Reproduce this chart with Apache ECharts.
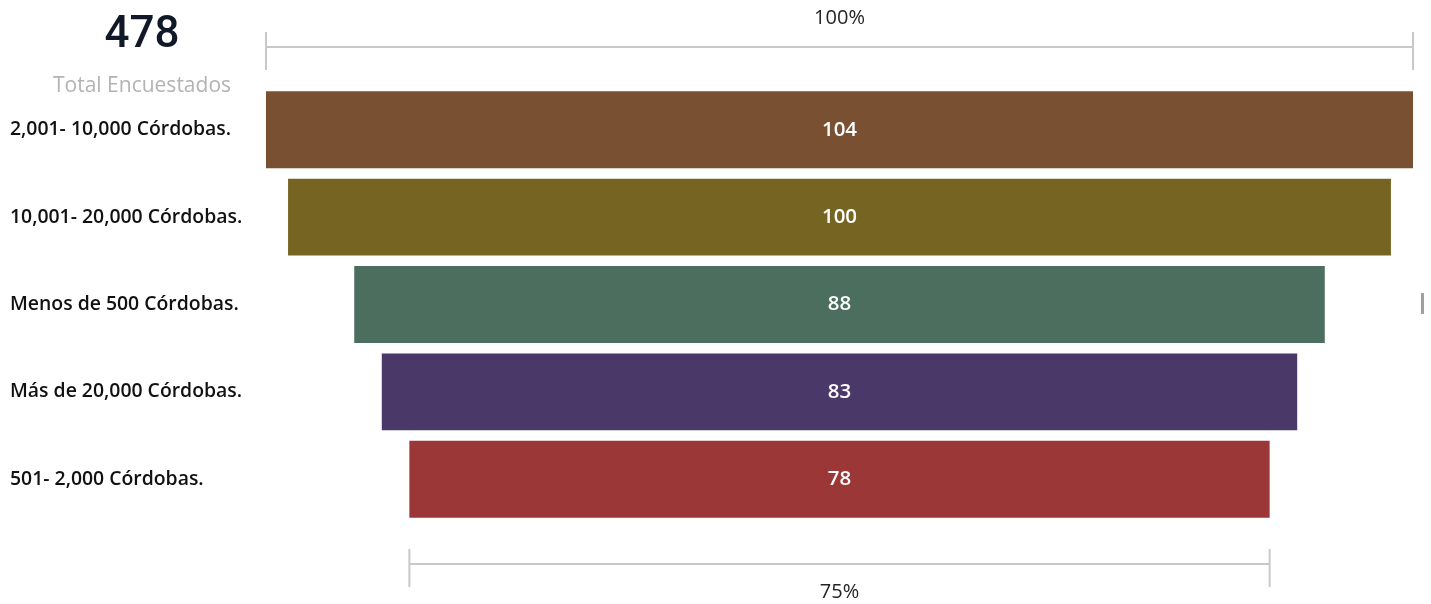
<!DOCTYPE html>
<html><head><meta charset="utf-8">
<script src="https://cdn.jsdelivr.net/npm/echarts@6/dist/echarts.min.js"></script>
<style>html,body{margin:0;padding:0;background:#fff}#c{width:1431px;height:604px}</style>
</head><body><div id="c"></div>
<script>
const categories = ['2,001- 10,000 Córdobas.','10,001- 20,000 Córdobas.','Menos de 500 Córdobas.','Más de 20,000 Córdobas.','501- 2,000 Córdobas.'];
const values = [104, 100, 88, 83, 78];
const colors = ['#7a5033','#766422','#4b6e5e','#4a3869','#9b3736'];
const totalValue = 478;
const totalLabel = 'Total Encuestados';
const topPct = '100%';
const bottomPct = '75%';

(function(){
const maxV = Math.max(...values);
const offsets = values.map(v => (maxV - v) / 2);

const chart = echarts.init(document.getElementById('c'), null, {renderer:'canvas'});
const option = {
  animation: false,
  grid: {left: 266, right: 18, top: 86, bottom: 81},
  xAxis: {type:'value', min:0, max:maxV, show:false},
  yAxis: {type:'category', data:categories, inverse:true,
    axisLine:{show:false}, axisTick:{show:false},
    axisLabel:{align:'left', margin:256, color:'#111', fontSize:19.4, fontFamily:'"Open Sans"', fontWeight:600, padding:[3,0,0,0]}},
  series: [
    {type:'bar', stack:'f', data:offsets, itemStyle:{color:'transparent'}, barWidth:'88%', silent:true},
    {type:'bar', stack:'f', barWidth:'88%',
      data: values.map((v,i)=>({value:v, itemStyle:{color:colors[i]}})),
      label:{show:true, position:'inside', color:'#fff', fontSize:20.5, fontFamily:'"Open Sans"', fontWeight:600}}
  ]
};
chart.setOption(option);

const gray = '#c8c8c8';
const firstV = values[0], lastV = values[values.length-1];
const n = offsets.length - 1;
const tl = chart.convertToPixel({gridIndex:0}, [offsets[0], 0])[0];
const tr = chart.convertToPixel({gridIndex:0}, [offsets[0]+firstV, 0])[0];
const bl = chart.convertToPixel({gridIndex:0}, [offsets[n], 0])[0];
const br = chart.convertToPixel({gridIndex:0}, [offsets[n]+lastV, 0])[0];
function bracket(x1, x2, y) {
  return [
    {type:'line', shape:{x1:x1, y1:y, x2:x2, y2:y}, style:{stroke:gray, lineWidth:2}},
    {type:'line', shape:{x1:x1, y1:y-15, x2:x1, y2:y+23}, style:{stroke:gray, lineWidth:2}},
    {type:'line', shape:{x1:x2, y1:y-15, x2:x2, y2:y+23}, style:{stroke:gray, lineWidth:2}}
  ];
}
chart.setOption({graphic: [
  {type:'text', style:{text:String(totalValue), x:142, y:36, align:'center', verticalAlign:'middle', fill:'#111827', font:'500 44px Roboto'}},
  {type:'text', style:{text:totalLabel, x:142, y:86, align:'center', verticalAlign:'middle', fill:'#b3b3b3', font:'21px "Open Sans"'}},
  {type:'text', style:{text:topPct, x:(tl+tr)/2, y:18, align:'center', verticalAlign:'middle', fill:'#252423', font:'20px "Open Sans"'}},
  {type:'text', style:{text:bottomPct, x:(bl+br)/2, y:592, align:'center', verticalAlign:'middle', fill:'#252423', font:'20px "Open Sans"'}},
  ...bracket(tl, tr, 47),
  ...bracket(bl, br, 564),
  {type:'rect', shape:{x:1421, y:293, width:3, height:21}, style:{fill:'#a0a0a0'}}
]});
})();
</script></body></html>
